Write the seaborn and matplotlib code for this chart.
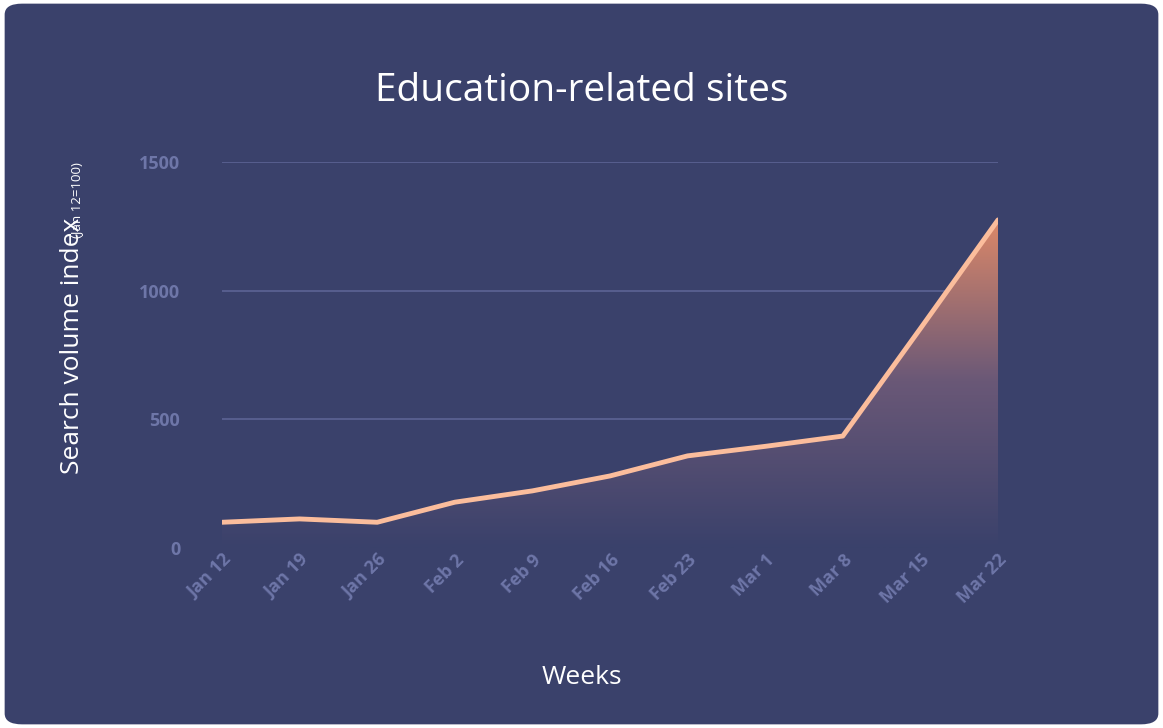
import numpy as np
import pandas as pd
import matplotlib
matplotlib.use("Agg")
import matplotlib.pyplot as plt
import seaborn as sns
from matplotlib.patches import FancyBboxPatch
from matplotlib.colors import LinearSegmentedColormap

weeks = ["Jan 12", "Jan 19", "Jan 26", "Feb 2", "Feb 9", "Feb 16",
         "Feb 23", "Mar 1", "Mar 8", "Mar 15", "Mar 22"]
index_values = [100, 113, 100, 178, 222, 280, 358, 395, 435, 853, 1275]
y_ticks = [0, 500, 1000, 1500]

BG = "#3a416b"
sns.set_theme(style="white")
plt.rcParams['font.family'] = ['Open Sans', 'DejaVu Sans']

df = pd.DataFrame({"week": np.arange(len(weeks)), "value": index_values})

fig = plt.figure(figsize=(11.63, 7.28), dpi=100)
fig.patch.set_facecolor("white")
card = FancyBboxPatch((0.004, 0.005), 0.992, 0.99, boxstyle="round,pad=0,rounding_size=0.015",
                      transform=fig.transFigure, facecolor=BG, edgecolor="none", zorder=-10)
fig.patches.append(card)

ax = fig.add_axes([222 / 1163, 1 - 548 / 728, (998 - 222) / 1163, (548 - 162) / 728])
ax.set_facecolor("none")
ax.set_xlim(0, len(weeks) - 1)
ax.set_ylim(0, 1500)

# gradient fill under the line
cmap = LinearSegmentedColormap.from_list("g", [BG, "#6a5877", "#e08a68"])
grad = np.linspace(0, 1, 256).reshape(-1, 1)
im = ax.imshow(grad, extent=[0, len(weeks) - 1, 0, 1300], origin="lower",
               aspect="auto", cmap=cmap, zorder=1)
poly = ax.fill_between(df["week"], df["value"], 0, color="none")
im.set_clip_path(poly.get_paths()[0], transform=ax.transData)

for t in y_ticks:
    ax.axhline(t, color="#5c6394", lw=1.2, zorder=0.5)

sns.lineplot(data=df, x="week", y="value", ax=ax, color="#fbbd9c", lw=3.5, zorder=3)

for s in ax.spines.values():
    s.set_visible(False)
ax.set_xticks(range(len(weeks)))
ax.set_xticklabels(weeks, rotation=45, ha="right", rotation_mode="anchor",
                   color="#6e76a8", fontsize=13, fontweight="bold")
ax.set_yticks(y_ticks)
ax.set_yticklabels([str(t) for t in y_ticks], color="#6e76a8", fontsize=13, fontweight="bold")
ax.tick_params(axis="x", pad=2, length=0)
ax.tick_params(axis="y", pad=30, length=0)
ax.set_xlabel("")
ax.set_ylabel("")

fig.text(0.5, 0.875, "Education-related sites", ha="center", va="center",
         color="white", fontsize=28)
fig.text(0.5, 0.07, "Weeks", ha="center", va="center", color="white", fontsize=19)
fig.text(0.062, 0.525, "Search volume index", rotation=90, ha="center", va="center",
         color="white", fontsize=19)
fig.text(0.066, 0.725, "(Jan 12=100)", rotation=90, ha="center", va="center",
         color="white", fontsize=9.5)

fig.savefig("out.png", dpi=100, facecolor=fig.get_facecolor())
